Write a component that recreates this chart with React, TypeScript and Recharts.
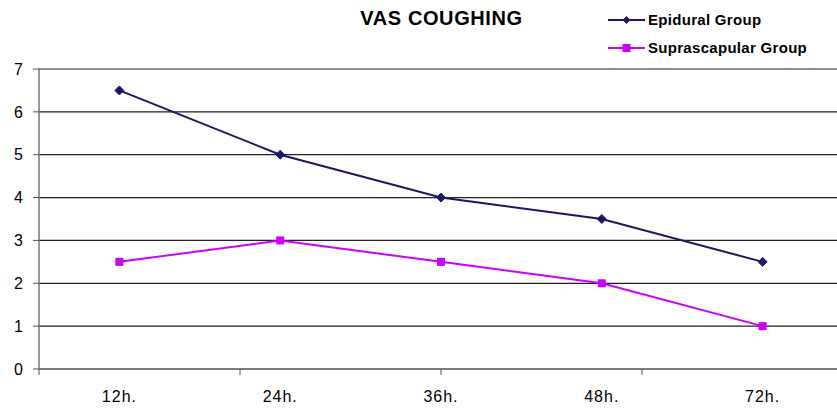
import React from "react";
import { LineChart, Line, XAxis, YAxis, CartesianGrid, Legend } from "recharts";

const categories = ["12h.", "24h.", "36h.", "48h.", "72h."];
const epidural = [6.5, 5, 4, 3.5, 2.5];
const suprascapular = [2.5, 3, 2.5, 2, 1];
const yTicks = [0, 1, 2, 3, 4, 5, 6, 7];
const bandTicks = [0, 1, 2, 3, 4, 5];
const seriesNames = ["Epidural Group", "Suprascapular Group"];
const title = "VAS COUGHING";

const data = categories.map((c, i) => ({ cat: c, epi: epidural[i], sup: suprascapular[i] }));

const NAVY = "#1a1866";
const MAGENTA = "#cc00ff";
const FONT = "'Liberation Sans', Arial, sans-serif";

const Diamond = (props: any) => {
  const { cx, cy } = props;
  if (cx == null || cy == null) return null;
  return <polygon points={`${cx},${cy - 4.5} ${cx + 4.5},${cy} ${cx},${cy + 4.5} ${cx - 4.5},${cy}`} fill={NAVY} stroke={NAVY} />;
};

const Square = (props: any) => {
  const { cx, cy } = props;
  if (cx == null || cy == null) return null;
  return <rect x={cx - 4} y={cy - 4} width={8} height={8} fill={MAGENTA} />;
};

const LegendContent = () => (
  <svg width={230} height={60} style={{ display: "block" }}>
    <line x1={8} y1={15} x2={45} y2={15} stroke={NAVY} strokeWidth={2} />
    <polygon points="26.5,11 30.5,15 26.5,19 22.5,15" fill={NAVY} />
    <text x={48} y={20} fontFamily={FONT} fontSize={15} fontWeight="bold" fill="#000" letterSpacing={0.3}>
      {seriesNames[0]}
    </text>
    <line x1={8} y1={43} x2={45} y2={43} stroke={MAGENTA} strokeWidth={2} />
    <rect x={22.5} y={39} width={8} height={8} fill={MAGENTA} />
    <text x={48} y={48} fontFamily={FONT} fontSize={15} fontWeight="bold" fill="#000" letterSpacing={0.3}>
      {seriesNames[1]}
    </text>
  </svg>
);

export default function App() {
  return (
    <div style={{ position: "absolute", left: 0, top: 0, width: 837, height: 409, overflow: "hidden", background: "#fff" }}>
      <div
        style={{
          position: "absolute",
          left: 0,
          width: 883,
          top: 7,
          textAlign: "center",
          fontFamily: FONT,
          fontWeight: "bold",
          fontSize: 20,
          letterSpacing: 0.6,
          color: "#000",
          zIndex: 2,
        }}
      >
        {title}
      </div>
      <LineChart width={845} height={409} data={data} margin={{ top: 69, right: 2, bottom: 0, left: 0 }}>
        <CartesianGrid xAxisId="m" horizontal={true} vertical={false} stroke="#222" strokeWidth={1.2} />
        <XAxis
          xAxisId="a"
          type="number"
          domain={[0, 5]}
          ticks={bandTicks}
          height={5}
          axisLine={{ stroke: "#777", strokeWidth: 1.5 }}
          tickLine={{ stroke: "#555" }}
          tickSize={6}
          tick={() => <g />}
          allowDataOverflow
        />
        <XAxis
          xAxisId="m"
          dataKey="cat"
          scale="band"
          height={35}
          axisLine={false}
          tickLine={false}
          tickSize={0}
          tickMargin={17}
          tick={{ fill: "#000", fontSize: 16, fontFamily: FONT, letterSpacing: 1 }}
        />
        <YAxis
          width={39}
          domain={[0, 7]}
          ticks={yTicks}
          axisLine={{ stroke: "#777", strokeWidth: 1.5 }}
          tickLine={{ stroke: "#555" }}
          tickSize={6}
          tickMargin={10}
          tick={{ fill: "#000", fontSize: 16, fontFamily: FONT }}
        />
        <Legend
          layout="vertical"
          align="center"
          verticalAlign="middle"
          content={<LegendContent />}
          wrapperStyle={{ position: "absolute", top: 5, left: 600, width: 230, height: 60 }}
        />
        <Line
          xAxisId="m"
          dataKey="epi"
          name={seriesNames[0]}
          stroke={NAVY}
          strokeWidth={2}
          dot={<Diamond />}
          activeDot={false}
          isAnimationActive={false}
        />
        <Line
          xAxisId="m"
          dataKey="sup"
          name={seriesNames[1]}
          stroke={MAGENTA}
          strokeWidth={2}
          dot={<Square />}
          activeDot={false}
          isAnimationActive={false}
        />
      </LineChart>
    </div>
  );
}
